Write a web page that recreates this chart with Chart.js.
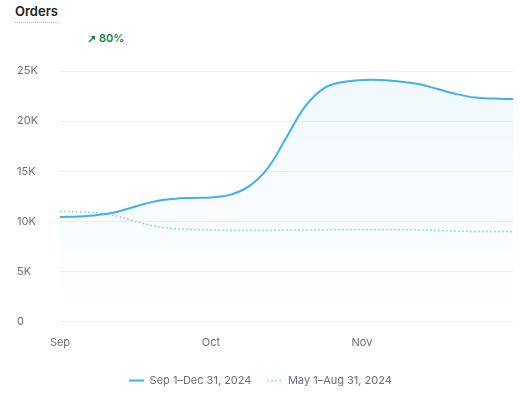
<!DOCTYPE html>
<html lang="en">
  <head>
    <meta charset="UTF-8" />
    <title>Orders</title>
    <style>
      body { margin: 0; background: #fff; font-family: Inter, "Noto Sans", sans-serif; }
      #wrap { position: relative; width: 521px; height: 397px; }
      #title {
        position: absolute; left: 15px; top: 3px;
        font-size: 13px; font-weight: 600; color: #1d1d21;
        padding-bottom: 3px; border-bottom: 1.5px dotted #b4b4bc;
      }
      #delta {
        position: absolute; left: 88px; top: 31px;
        font-size: 11px; font-weight: 600; color: #16894a;
      }
      #delta svg { vertical-align: -1px; margin-right: 3px; }
      canvas { position: absolute; left: 0; top: 0; }
    </style>
  </head>
  <body>
    <div id="wrap">
      <div id="title">Orders</div>
      <div id="delta"><svg width="8" height="8" viewBox="0 0 8 8"><path d="M1 7 L6 2" stroke="#16894a" stroke-width="1.4"/><path d="M2.5 1 H7 V5.5 Z" fill="#16894a"/></svg>80%</div>
      <canvas id="myChart" width="521" height="397"></canvas>
    </div>
  </body>
  <script src="https://cdn.jsdelivr.net/npm/chart.js"></script>
  <script>
    var categories = [
      "Sep 1", "Sep 5", "Sep 9", "Sep 12", "Sep 16", "Sep 20", "Sep 24", "Sep 27",
      "Oct 1", "Oct 5", "Oct 9", "Oct 12", "Oct 16", "Oct 20", "Oct 24", "Oct 28",
      "Nov 1", "Nov 5", "Nov 9", "Nov 12", "Nov 16", "Nov 20", "Nov 24", "Nov 27", "Dec 1"
    ];
    var monthTicks = ["Sep", "Oct", "Nov"];
    var monthTickIndex = [0, 8, 16];
    var yTicks = [0, 5000, 10000, 15000, 20000, 25000];

    var current = [
      10450, 10500, 10650, 10950, 11500, 12000, 12250, 12350,
      12400, 12650, 13500, 15300, 18400, 21500, 23300, 23900,
      24100, 24100, 23950, 23700, 23200, 22700, 22350, 22250, 22200
    ];
    var previous = [
      11000, 10950, 10850, 10550, 10000, 9550, 9300, 9200,
      9150, 9100, 9100, 9100, 9150, 9150, 9150, 9200,
      9200, 9200, 9200, 9150, 9100, 9050, 9000, 9000, 9000
    ];

    function fillGradient(context) {
      const chart = context.chart;
      const area = chart.chartArea;
      if (!area) return "rgba(61,174,234,0.06)";
      const g = chart.ctx.createLinearGradient(0, area.top, 0, area.bottom);
      g.addColorStop(0, "rgba(61,174,234,0.08)");
      g.addColorStop(1, "rgba(61,174,234,0)");
      return g;
    }

    // center the legend on the whole canvas, not just inside the padding
    const centerLegend = {
      id: "centerLegend",
      afterLayout(chart) {
        chart.legend.left = 0;
        chart.legend.right = chart.width;
      },
    };

    var data = {
      labels: categories,
      datasets: [
        {
          label: "Sep 1\u2013Dec 31, 2024",
          data: current,
          borderColor: "#3fb1ee",
          backgroundColor: fillGradient,
          borderWidth: 2,
          fill: "origin",
          pointRadius: 0,
          tension: 0.4,
        },
        {
          label: "May 1\u2013Aug 31, 2024",
          data: previous,
          borderColor: "#86c7ef",
          borderWidth: 1.5,
          borderDash: [1.5, 2.5],
          fill: false,
          pointRadius: 0,
          tension: 0.4,
        },
      ],
    };

    const config = {
      type: "line",
      data: data,
      plugins: [centerLegend],
      options: {
        responsive: false,
        animation: false,
        layout: { padding: { top: 71, left: 17, right: 8, bottom: 1 } },
        plugins: {
          tooltip: { enabled: false },
          legend: {
            position: "bottom",
            labels: {
              usePointStyle: true,
              pointStyle: "line",
              pointStyleWidth: 15,
              boxHeight: 11,
              padding: 16,
              color: "#6d6d78",
              font: { family: "Inter", size: 11 },
              generateLabels: function (chart) {
                const items = Chart.defaults.plugins.legend.labels.generateLabels(chart);
                items.forEach(function (it, i) {
                  const ds = chart.data.datasets[i];
                  it.lineDash = ds.borderDash || [];
                  it.lineWidth = ds.borderWidth;
                  it.strokeStyle = ds.borderColor;
                });
                return items;
              },
            },
          },
        },
        scales: {
          x: {
            afterFit: function (s) { s.height = s.height + 4; },
            grid: { display: false },
            border: { display: false },
            ticks: {
              autoSkip: false,
              maxRotation: 0,
              padding: 6,
              color: "#6d6d78",
              font: { family: "Inter", size: 11 },
              callback: function (v, i) {
                const k = monthTickIndex.indexOf(i);
                return k >= 0 ? monthTicks[k] : "";
              },
            },
          },
          y: {
            min: 0,
            max: 25000,
            afterFit: function (s) { s.width = 43; },
            afterBuildTicks: function (s) { s.ticks = yTicks.map(function (v) { return { value: v }; }); },
            grid: { color: "#efeff1", drawTicks: false },
            border: { display: false },
            ticks: {
              crossAlign: "far",
              padding: 8,
              color: "#6d6d78",
              font: { family: "Inter", size: 11 },
              callback: function (v) { return v === 0 ? "0" : v / 1000 + "K"; },
            },
          },
        },
      },
    };

    var myChart = new Chart(document.getElementById("myChart"), config);
  </script>
</html>
